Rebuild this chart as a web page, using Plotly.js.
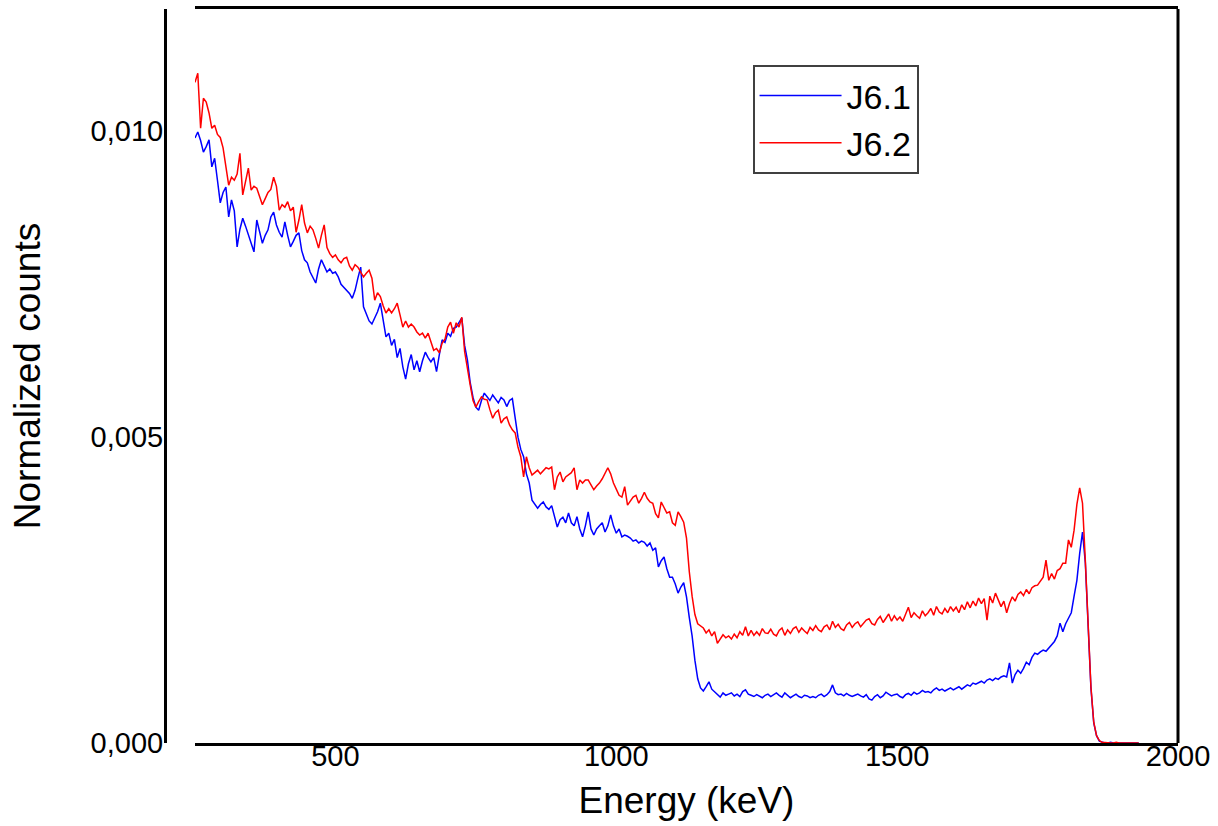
<!DOCTYPE html>
<html>
<head>
<meta charset="utf-8">
<script src="https://cdn.plot.ly/plotly-3.0.1.min.js"></script>
<style>html,body{margin:0;padding:0;background:#fff;}#chart{width:1218px;height:826px;}</style>
</head>
<body>
<div id="chart"></div>
<script>
// Energy axis (keV)
const energy = [250,255,260,265,270,275,280,285,290,295,300,305,310,315,320,325,330,335,340,345,350,355,360,365,370,375,380,385,390,395,400,405,410,415,420,425,430,435,440,445,450,455,460,465,470,475,480,485,490,495,500,505,510,515,520,525,530,535,540,545,550,555,560,565,570,575,580,585,590,595,600,605,610,615,620,625,630,635,640,645,650,655,660,665,670,675,680,685,690,695,700,705,710,715,720,725,730,735,740,745,750,755,760,765,770,775,780,785,790,795,800,805,810,815,820,825,830,835,840,845,850,855,860,865,870,875,880,885,890,895,900,905,910,915,920,925,930,935,940,945,950,955,960,965,970,975,980,985,990,995,1000,1005,1010,1015,1020,1025,1030,1035,1040,1045,1050,1055,1060,1065,1070,1075,1080,1085,1090,1095,1100,1105,1110,1115,1120,1125,1130,1135,1140,1145,1150,1155,1160,1165,1170,1175,1180,1185,1190,1195,1200,1205,1210,1215,1220,1225,1230,1235,1240,1245,1250,1255,1260,1265,1270,1275,1280,1285,1290,1295,1300,1305,1310,1315,1320,1325,1330,1335,1340,1345,1350,1355,1360,1365,1370,1375,1380,1385,1390,1395,1400,1405,1410,1415,1420,1425,1430,1435,1440,1445,1450,1455,1460,1465,1470,1475,1480,1485,1490,1495,1500,1505,1510,1515,1520,1525,1530,1535,1540,1545,1550,1555,1560,1565,1570,1575,1580,1585,1590,1595,1600,1605,1610,1615,1620,1625,1630,1635,1640,1645,1650,1655,1660,1665,1670,1675,1680,1685,1690,1695,1700,1705,1710,1715,1720,1725,1730,1735,1740,1745,1750,1755,1760,1765,1770,1775,1780,1785,1790,1795,1800,1805,1810,1815,1820,1825,1830,1835,1840,1845,1850,1855,1860,1865,1870,1875,1880,1885,1890,1895,1900,1905,1910,1915,1920,1925,1930];

// J6.1 normalized counts
const j61 = [
0.00989,0.00999,0.00985,0.00966,0.00975,0.00986,0.00942,0.00956,0.00920,0.00883,
0.00900,0.00909,0.00860,0.00888,0.00870,0.00811,0.00840,0.00858,0.00845,0.00830,
0.00815,0.00803,0.00855,0.00835,0.00817,0.00830,0.00839,0.00860,0.00868,0.00847,
0.00835,0.00827,0.00852,0.00830,0.00811,0.00820,0.00830,0.00834,0.00805,0.00790,
0.00785,0.00770,0.00760,0.00752,0.00775,0.00790,0.00780,0.00770,0.00775,0.00768,
0.00770,0.00762,0.00750,0.00745,0.00740,0.00735,0.00727,0.00740,0.00760,0.00778,
0.00713,0.00700,0.00690,0.00685,0.00695,0.00705,0.00719,0.00690,0.00664,0.00670,
0.00650,0.00660,0.00630,0.00645,0.00615,0.00595,0.00620,0.00635,0.00610,0.00625,
0.00607,0.00625,0.00639,0.00630,0.00623,0.00630,0.00607,0.00635,0.00659,0.00655,
0.00670,0.00665,0.00678,0.00680,0.00687,0.00695,0.00650,0.00626,0.00589,0.00565,
0.00549,0.00544,0.00560,0.00572,0.00566,0.00560,0.00569,0.00562,0.00556,0.00565,
0.00561,0.00550,0.00560,0.00563,0.00533,0.00500,0.00480,0.00468,0.00440,0.00425,
0.00397,0.00390,0.00384,0.00390,0.00394,0.00386,0.00382,0.00388,0.00370,0.00353,
0.00365,0.00369,0.00360,0.00376,0.00360,0.00355,0.00370,0.00350,0.00337,0.00355,
0.00378,0.00350,0.00340,0.00350,0.00355,0.00360,0.00345,0.00355,0.00373,0.00355,
0.00343,0.00350,0.00337,0.00340,0.00338,0.00335,0.00330,0.00332,0.00327,0.00330,
0.00328,0.00322,0.00327,0.00315,0.00319,0.00288,0.00298,0.00304,0.00285,0.00271,
0.00271,0.00260,0.00245,0.00255,0.00262,0.00239,0.00205,0.00175,0.00135,0.00105,
0.00090,0.00085,0.00092,0.00100,0.00088,0.00084,0.00080,0.00075,0.00082,0.00078,
0.00080,0.00082,0.00077,0.00080,0.00076,0.00084,0.00087,0.00080,0.00078,0.00076,
0.00079,0.00077,0.00074,0.00078,0.00080,0.00076,0.00079,0.00082,0.00078,0.00075,
0.00082,0.00078,0.00074,0.00077,0.00080,0.00076,0.00074,0.00078,0.00077,0.00074,
0.00076,0.00074,0.00078,0.00080,0.00076,0.00079,0.00084,0.00095,0.00082,0.00079,
0.00080,0.00077,0.00081,0.00078,0.00076,0.00078,0.00080,0.00077,0.00075,0.00079,
0.00072,0.00070,0.00076,0.00079,0.00074,0.00077,0.00083,0.00080,0.00077,0.00079,
0.00080,0.00076,0.00074,0.00079,0.00081,0.00078,0.00083,0.00080,0.00082,0.00086,
0.00083,0.00084,0.00082,0.00087,0.00090,0.00086,0.00088,0.00085,0.00088,0.00090,
0.00087,0.00089,0.00092,0.00088,0.00091,0.00095,0.00093,0.00098,0.00096,0.00099,
0.00101,0.00098,0.00103,0.00105,0.00102,0.00106,0.00104,0.00108,0.00110,0.00108,
0.00131,0.00098,0.00112,0.00119,0.00114,0.00122,0.00132,0.00128,0.00140,0.00147,
0.00145,0.00149,0.00152,0.00150,0.00156,0.00162,0.00166,0.00175,0.00196,0.00182,
0.00195,0.00204,0.00213,0.00240,0.00266,0.00310,0.00345,0.00295,0.00200,0.00090,
0.00033,0.00012,0.00003,0.00001,0,0,0.00001,0,0,0,
0,0,0.00001,0,0,0,0];

// J6.2 normalized counts
const j62 = [
0.01080,0.01095,0.01005,0.01054,0.01048,0.01030,0.01005,0.01010,0.00995,0.00990,
0.00973,0.00945,0.00912,0.00925,0.00920,0.00930,0.00964,0.00896,0.00920,0.00940,
0.00904,0.00910,0.00907,0.00895,0.00880,0.00890,0.00900,0.00905,0.00925,0.00910,
0.00871,0.00880,0.00876,0.00885,0.00870,0.00876,0.00835,0.00855,0.00880,0.00850,
0.00834,0.00845,0.00839,0.00825,0.00809,0.00830,0.00847,0.00810,0.00800,0.00794,
0.00798,0.00790,0.00785,0.00792,0.00794,0.00780,0.00773,0.00782,0.00778,0.00770,
0.00762,0.00768,0.00773,0.00760,0.00724,0.00736,0.00730,0.00715,0.00703,0.00710,
0.00703,0.00710,0.00719,0.00700,0.00680,0.00690,0.00680,0.00685,0.00680,0.00672,
0.00667,0.00670,0.00662,0.00670,0.00654,0.00642,0.00645,0.00638,0.00654,0.00660,
0.00680,0.00688,0.00670,0.00687,0.00680,0.00696,0.00640,0.00610,0.00585,0.00560,
0.00549,0.00558,0.00566,0.00562,0.00561,0.00545,0.00531,0.00540,0.00544,0.00523,
0.00530,0.00533,0.00520,0.00512,0.00507,0.00484,0.00468,0.00435,0.00468,0.00450,
0.00438,0.00442,0.00446,0.00440,0.00445,0.00450,0.00448,0.00451,0.00414,0.00435,
0.00443,0.00427,0.00435,0.00438,0.00442,0.00450,0.00414,0.00430,0.00425,0.00430,
0.00430,0.00422,0.00414,0.00420,0.00425,0.00432,0.00441,0.00450,0.00440,0.00425,
0.00415,0.00405,0.00402,0.00419,0.00389,0.00395,0.00402,0.00405,0.00392,0.00400,
0.00410,0.00400,0.00394,0.00392,0.00375,0.00368,0.00394,0.00385,0.00376,0.00378,
0.00360,0.00356,0.00378,0.00370,0.00361,0.00335,0.00280,0.00240,0.00210,0.00195,
0.00192,0.00188,0.00180,0.00185,0.00175,0.00182,0.00163,0.00170,0.00177,0.00172,
0.00175,0.00170,0.00178,0.00172,0.00182,0.00176,0.00190,0.00175,0.00184,0.00176,
0.00182,0.00176,0.00187,0.00180,0.00179,0.00186,0.00178,0.00175,0.00184,0.00188,
0.00176,0.00185,0.00179,0.00187,0.00190,0.00181,0.00188,0.00183,0.00179,0.00189,
0.00184,0.00192,0.00185,0.00182,0.00190,0.00193,0.00185,0.00199,0.00189,0.00194,
0.00187,0.00184,0.00193,0.00197,0.00189,0.00195,0.00198,0.00190,0.00196,0.00201,
0.00203,0.00195,0.00193,0.00202,0.00207,0.00197,0.00204,0.00211,0.00199,0.00208,
0.00201,0.00206,0.00199,0.00210,0.00222,0.00205,0.00213,0.00208,0.00204,0.00216,
0.00208,0.00213,0.00220,0.00209,0.00223,0.00214,0.00211,0.00220,0.00213,0.00223,
0.00216,0.00222,0.00213,0.00226,0.00218,0.00231,0.00221,0.00232,0.00224,0.00237,
0.00228,0.00236,0.00201,0.00240,0.00229,0.00245,0.00234,0.00223,0.00232,0.00213,
0.00228,0.00239,0.00232,0.00243,0.00247,0.00241,0.00251,0.00244,0.00254,0.00257,
0.00258,0.00264,0.00271,0.00299,0.00266,0.00277,0.00268,0.00282,0.00285,0.00294,
0.00294,0.00332,0.00320,0.00348,0.00390,0.00417,0.00392,0.00299,0.00200,0.00092,
0.00034,0.00012,0.00004,0.00001,0.00001,0,0,0,0.00001,0,
0,0,0,0,0,0,0];

const seriesNames = ['J6.1', 'J6.2'];
const xTickVals = [500, 1000, 1500, 2000];
const xTickText = ['500', '1000', '1500', '2000'];
const yTickVals = [0, 0.005, 0.010];
const yTickText = ['0,000', '0,005', '0,010'];

const FONT = '"Liberation Sans", Arial, sans-serif';

const traces = [
  {x: energy, y: j61, name: seriesNames[0], type: 'scatter', mode: 'lines',
   line: {color: '#0000ff', width: 1.5}},
  {x: energy, y: j62, name: seriesNames[1], type: 'scatter', mode: 'lines',
   line: {color: '#ff0000', width: 1.5}}
];

const layout = {
  width: 1218, height: 826,
  margin: {l: 165, r: 40, t: 9, b: 83},
  paper_bgcolor: '#ffffff', plot_bgcolor: '#ffffff',
  font: {family: FONT, color: '#000000'},
  showlegend: true,
  legend: {
    x: 0.58, y: 0.9237, xanchor: 'left', yanchor: 'top',
    bgcolor: '#ffffff', bordercolor: '#404040', borderwidth: 2,
    font: {family: FONT, size: 34, color: '#000000'},
    itemwidth: 82, tracegroupgap: 0
  },
  xaxis: {
    domain: [0.0296, 1],
    range: [250, 2000],
    showgrid: false, zeroline: false,
    showline: true, linecolor: '#000000', linewidth: 3, mirror: true,
    ticks: '', tickvals: xTickVals, ticktext: xTickText,
    ticklabelstandoff: -15,
    tickfont: {family: FONT, size: 29, color: '#000000'},
    title: {text: 'Energy (keV)', font: {family: FONT, size: 37, color: '#000000'}, standoff: 17}
  },
  yaxis: {
    anchor: 'free', position: 0,
    range: [0, 0.012],
    showgrid: false, zeroline: false,
    showline: true, linecolor: '#000000', linewidth: 3,
    ticks: '', tickvals: yTickVals, ticktext: yTickText,
    ticklabelstandoff: -5,
    tickfont: {family: FONT, size: 29, color: '#000000'},
    title: {text: 'Normalized counts', font: {family: FONT, size: 37, color: '#000000'}, standoff: 37}
  },
  shapes: [
    {type: 'line', xref: 'paper', yref: 'paper', x0: 1, x1: 1, y0: 0, y1: 1,
     line: {color: '#000000', width: 3}}
  ]
};

Plotly.newPlot('chart', traces, layout, {displayModeBar: false, staticPlot: true});
</script>
</body>
</html>
